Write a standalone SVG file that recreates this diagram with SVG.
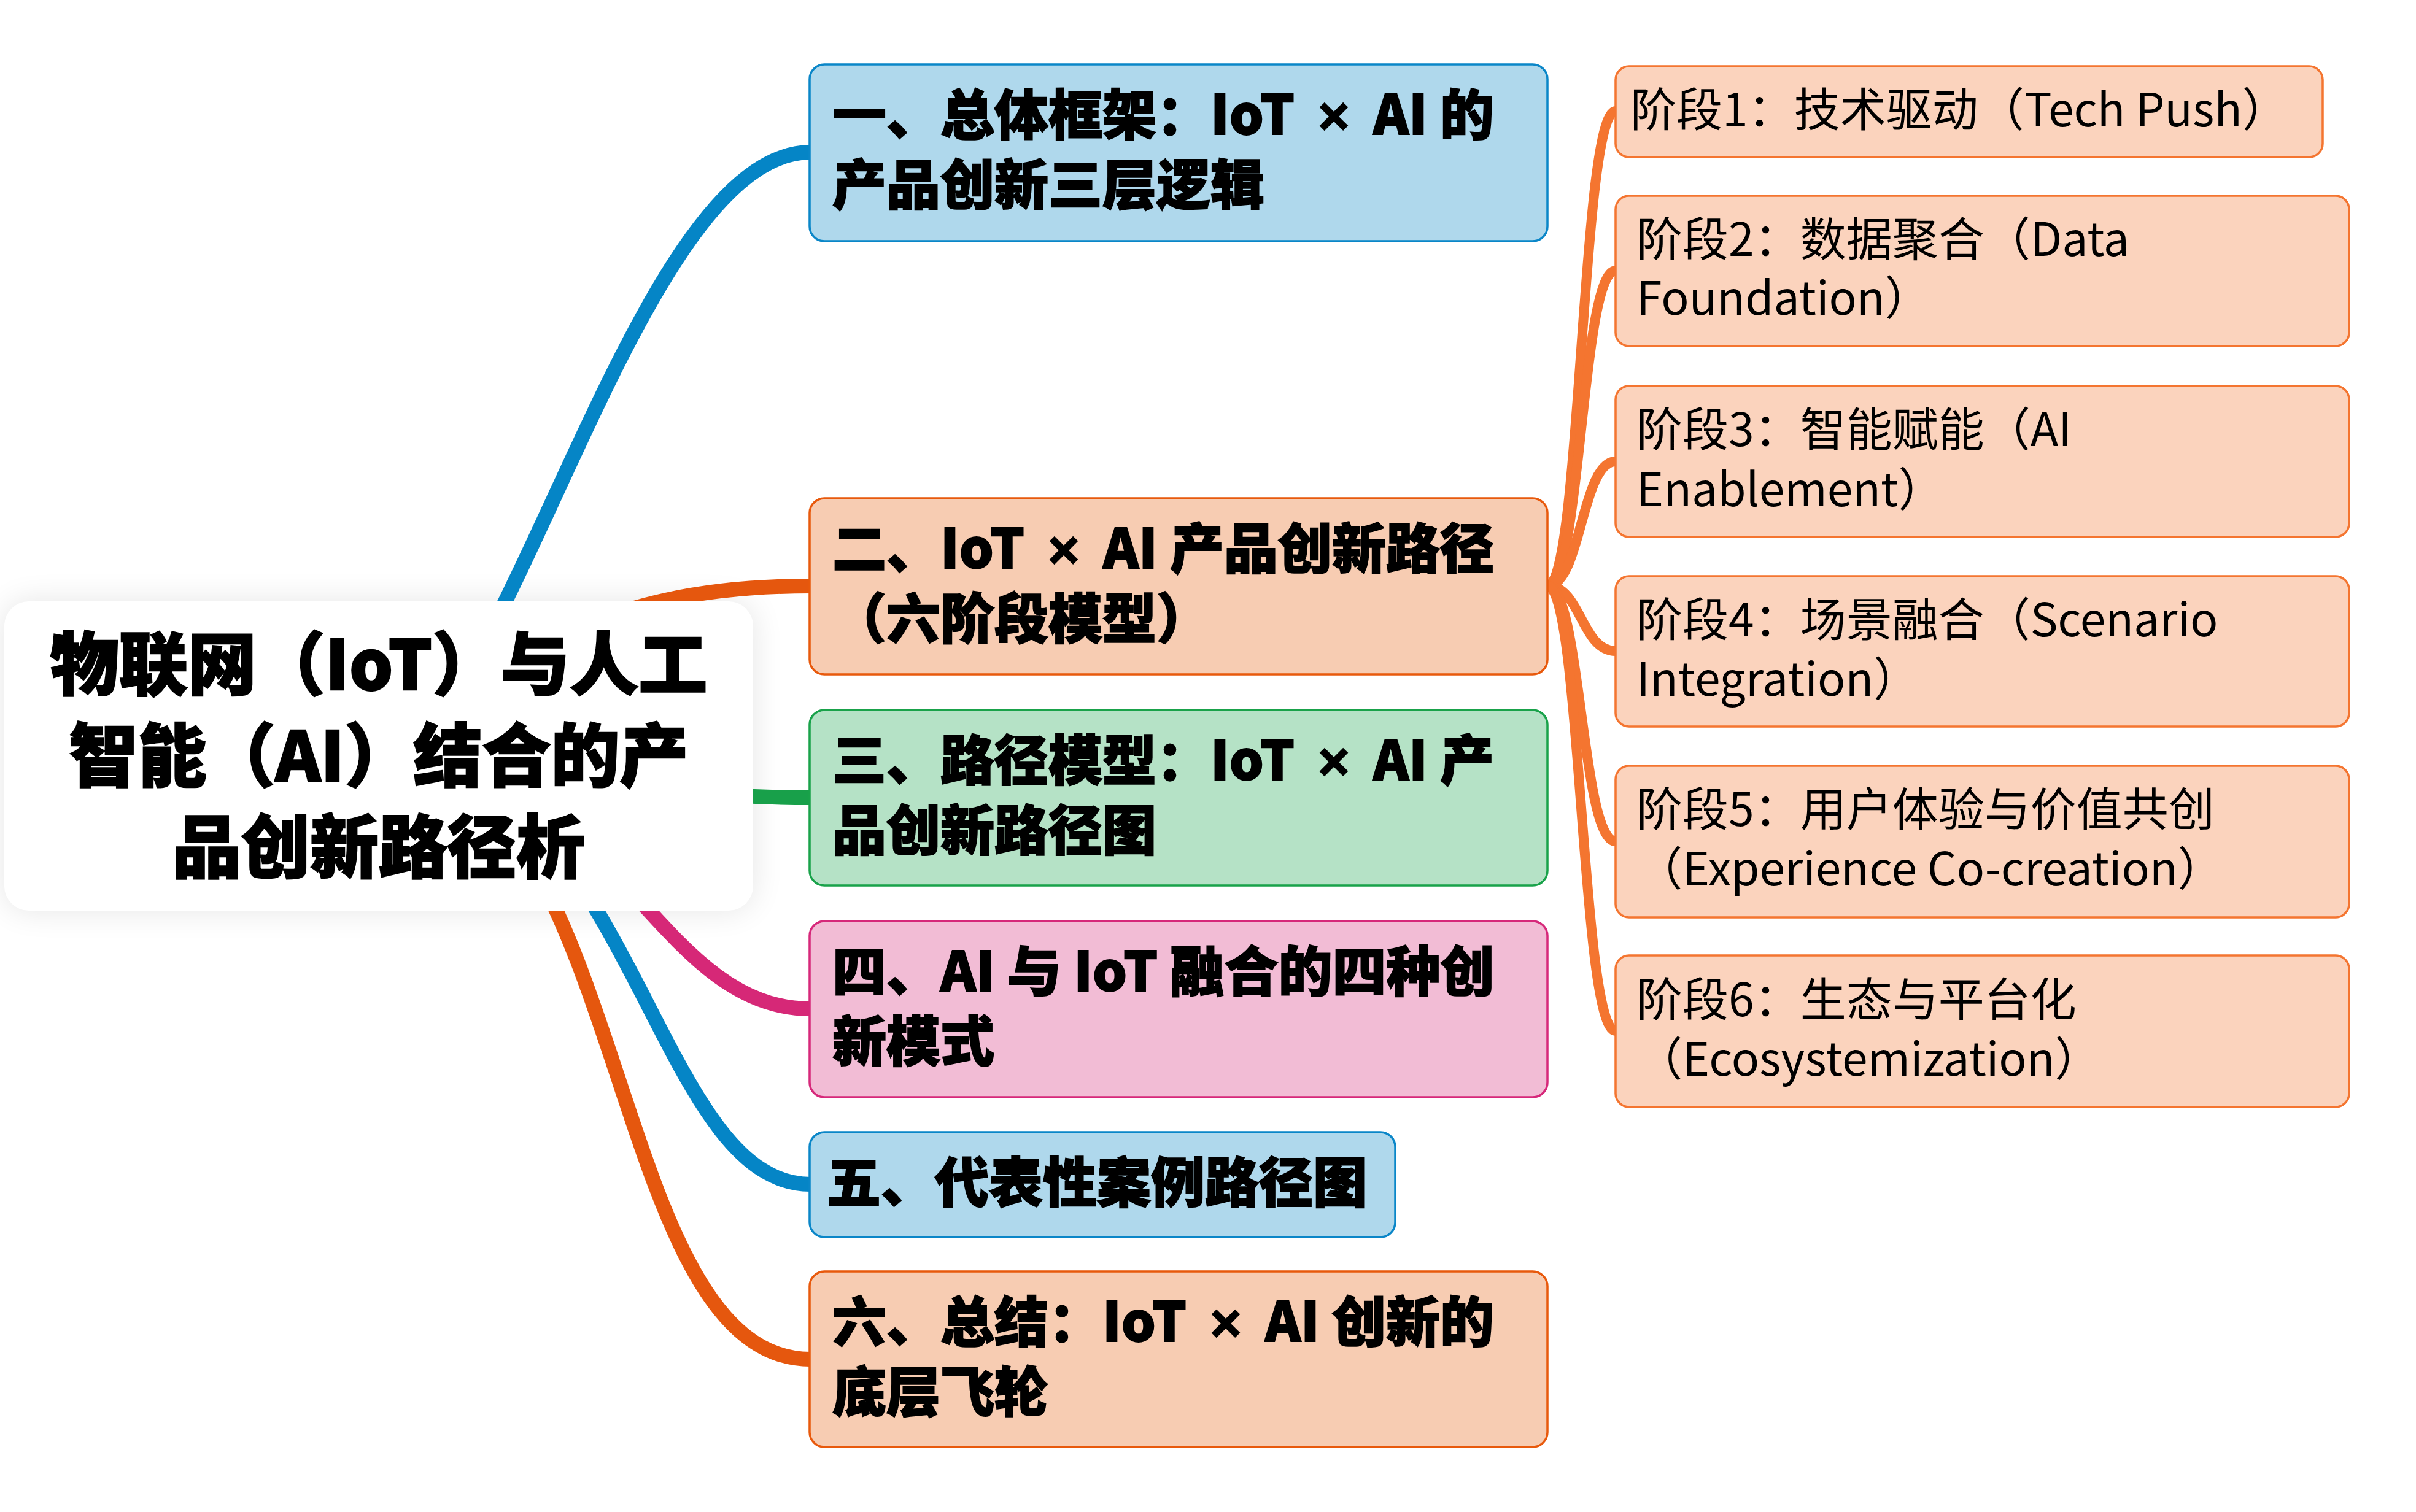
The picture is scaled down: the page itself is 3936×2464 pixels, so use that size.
<svg xmlns="http://www.w3.org/2000/svg" width="3936" height="2464" viewBox="0 0 3936 2464">
<defs>
<filter id="soft" x="-20%" y="-40%" width="140%" height="180%"><feGaussianBlur stdDeviation="26"/></filter>
<style>
text{font-family:"Noto Sans CJK SC","Noto Sans",sans-serif;fill:#000}
.tr{font-size:112px;font-weight:900;text-anchor:middle;stroke:#000;stroke-width:2.5}
.tm{font-size:88px;font-weight:900;stroke:#000;stroke-width:2}
.ts{font-size:75px;font-weight:400}
.x{font-family:"Liberation Sans","DejaVu Sans",sans-serif;font-weight:700}
.ln{fill:none;stroke-linecap:butt}
.main{stroke-width:24}
.sub{stroke-width:16;stroke:#F47530}
.blue{fill:#AFD8EC;stroke:#0A86C8;stroke-width:3.5}
.orng{fill:#F7CCB2;stroke:#E8590C;stroke-width:3.5}
.grn{fill:#B5E2C6;stroke:#19A24A;stroke-width:3.5}
.pink{fill:#F2BCD5;stroke:#D6287A;stroke-width:3.5}
.stg{fill:#FBD3BD;stroke:#F47530;stroke-width:3.5}
</style>
</defs>
<rect width="3936" height="2464" fill="#FFFFFF"/>
<rect x="7" y="980" width="1220" height="504" rx="40" fill="#000" opacity="0.10" filter="url(#soft)"/>
<g id="connectors">
<path class="ln main" stroke="#0585C6" d="M617 1231 C820 1231 1030 248 1320 248"/>
<path class="ln main" stroke="#E5570E" d="M900 1050 C1000 985 1150 955 1320 955"/>
<path class="ln main" stroke="#18A04A" d="M617 1231 C900 1231 1000 1300 1320 1300"/>
<path class="ln main" stroke="#D62877" d="M617 1231 C1000 1231 1060 1644 1320 1644"/>
<path class="ln main" stroke="#0585C6" d="M617 1231 C1030 1231 1060 1930 1320 1930"/>
<path class="ln main" stroke="#E5570E" d="M617 1231 C1030 1231 980 2215 1320 2215"/>
<path class="ln sub" d="M2521 955 C2576 955 2576 181 2632 181"/>
<path class="ln sub" d="M2521 955 C2576 955 2576 441 2632 441"/>
<path class="ln sub" d="M2521 955 C2576 955 2576 752 2632 752"/>
<path class="ln sub" d="M2521 955 C2576 955 2576 1061 2632 1061"/>
<path class="ln sub" d="M2521 955 C2576 955 2576 1371 2632 1371"/>
<path class="ln sub" d="M2521 955 C2576 955 2576 1680 2632 1680"/>
</g>
<g id="root">
<rect x="7" y="980" width="1220" height="504" rx="40" fill="#FFFFFF"/>
<text class="tr" x="617" y="1124">物联网（IoT）与人工</text>
<text class="tr" x="617" y="1273">智能（AI）结合的产</text>
<text class="tr" x="617" y="1422">品创新路径析</text>
</g>
<g id="n1">
<rect class="blue" x="1319" y="105" width="1202" height="288" rx="24"/>
<text class="tm" x="1356" y="219">一、总体框架：IoT <tspan class="x" dx="18">×</tspan><tspan dx="18"> AI 的</tspan></text>
<text class="tm" x="1356" y="333">产品创新三层逻辑</text>
</g>
<g id="n2">
<rect class="orng" x="1319" y="812" width="1202" height="287" rx="24"/>
<text class="tm" x="1356" y="926">二、IoT <tspan class="x" dx="18">×</tspan><tspan dx="18"> AI 产品创新路径</tspan></text>
<text class="tm" x="1356" y="1040">（六阶段模型）</text>
</g>
<g id="n3">
<rect class="grn" x="1319" y="1157" width="1202" height="286" rx="24"/>
<text class="tm" x="1356" y="1271">三、路径模型：IoT <tspan class="x" dx="18">×</tspan><tspan dx="18"> AI 产</tspan></text>
<text class="tm" x="1356" y="1385">品创新路径图</text>
</g>
<g id="n4">
<rect class="pink" x="1319" y="1501" width="1202" height="287" rx="24"/>
<text class="tm" x="1356" y="1615">四、AI 与 IoT 融合的四种创</text>
<text class="tm" x="1356" y="1729">新模式</text>
</g>
<g id="n5">
<rect class="blue" x="1319" y="1845" width="954" height="171" rx="24"/>
<text class="tm" x="1347" y="1959">五、代表性案例路径图</text>
</g>
<g id="n6">
<rect class="orng" x="1319" y="2072" width="1202" height="286" rx="24"/>
<text class="tm" x="1356" y="2186">六、总结：IoT <tspan class="x" dx="18">×</tspan><tspan dx="18"> AI 创新的</tspan></text>
<text class="tm" x="1356" y="2300">底层飞轮</text>
</g>
<g id="s1">
<rect class="stg" x="2632" y="108" width="1152" height="148" rx="22"/>
<text class="ts" x="2656" y="206">阶段1：技术驱动（Tech Push）</text>
</g>
<g id="s2">
<rect class="stg" x="2632" y="319" width="1195" height="245" rx="22"/>
<text class="ts" x="2666" y="417">阶段2：数据聚合（Data</text>
<text class="ts" x="2666" y="513">Foundation）</text>
</g>
<g id="s3">
<rect class="stg" x="2632" y="629" width="1195" height="246" rx="22"/>
<text class="ts" x="2666" y="727">阶段3：智能赋能（AI</text>
<text class="ts" x="2666" y="825">Enablement）</text>
</g>
<g id="s4">
<rect class="stg" x="2632" y="939" width="1195" height="245" rx="22"/>
<text class="ts" x="2666" y="1037">阶段4：场景融合（Scenario</text>
<text class="ts" x="2666" y="1134">Integration）</text>
</g>
<g id="s5">
<rect class="stg" x="2632" y="1248" width="1195" height="247" rx="22"/>
<text class="ts" x="2666" y="1346">阶段5：用户体验与价值共创</text>
<text class="ts" x="2666" y="1443">（Experience Co-creation）</text>
</g>
<g id="s6">
<rect class="stg" x="2632" y="1557" width="1195" height="247" rx="22"/>
<text class="ts" x="2666" y="1656">阶段6：生态与平台化</text>
<text class="ts" x="2666" y="1753">（Ecosystemization）</text>
</g>
</svg>
